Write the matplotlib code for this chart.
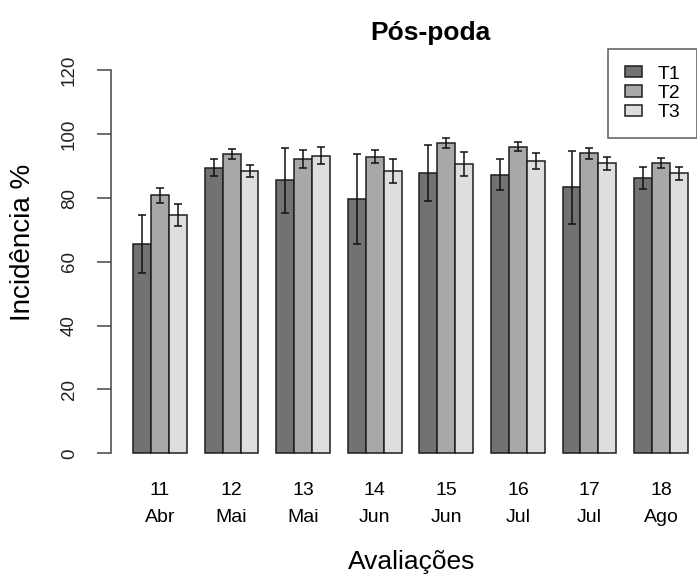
import matplotlib.pyplot as plt
import numpy as np

plt.rcParams["font.family"] = ["Liberation Sans", "DejaVu Sans"]

# Avaliações (semana + mês)
semanas = ["11", "12", "13", "14", "15", "16", "17", "18"]
meses = ["Abr", "Mai", "Mai", "Jun", "Jun", "Jul", "Jul", "Ago"]

tratamentos = ["T1", "T2", "T3"]

# Incidência média (%) por tratamento
t1 = [65.6, 89.5, 85.5, 79.6, 87.8, 87.3, 83.3, 86.3]
t2 = [80.8, 93.7, 92.3, 92.9, 97.2, 96.1, 94.0, 90.9]
t3 = [74.6, 88.5, 93.3, 88.5, 90.7, 91.6, 90.9, 87.8]

# erro padrão
t1_err = [9.0, 2.7, 10.3, 14.1, 8.7, 4.9, 11.5, 3.5]
t2_err = [2.4, 1.6, 2.9, 2.0, 1.6, 1.5, 1.7, 1.5]
t3_err = [3.4, 1.8, 2.7, 3.7, 3.7, 2.4, 2.1, 2.0]

cores = ["#707274", "#a6a8a9", "#dddede"]

W, H = 697, 578
fig = plt.figure(figsize=(W / 100, H / 100), dpi=100)

# plot region (R style barplot: beside=TRUE, space=c(0,1))
left_px, right_px = 111.1, 710.0
top_px, bot_px = 49.0, 468.6
ax = fig.add_axes([left_px / W, 1 - bot_px / H,
                   (right_px - left_px) / W, (bot_px - top_px) / H])

n = len(semanas)
medias = [t1, t2, t3]
erros = [t1_err, t2_err, t3_err]
for j in range(3):
    x = np.arange(n) * 4 + 1.5 + j
    ax.bar(x, medias[j], width=1.0, color=cores[j], edgecolor="#1e1e1e",
           linewidth=1.1, label=tratamentos[j], zorder=2)
    ax.errorbar(x, medias[j], yerr=erros[j], fmt="none", ecolor="#111111",
                elinewidth=1.1, capsize=2.8, capthick=1.1, zorder=3)

ax.set_xlim(-0.24, 33.24)
ax.set_ylim(-4.8, 126.7)

for s in ["top", "right", "bottom"]:
    ax.spines[s].set_visible(False)
ax.spines["left"].set_bounds(0, 120)
ax.spines["left"].set_color("#444444")
ax.spines["left"].set_linewidth(1.1)

ax.set_yticks(np.arange(0, 121, 20))
ax.set_yticklabels([str(v) for v in range(0, 121, 20)], rotation=90,
                   va="center", fontsize=13.5, color="#222222")
ax.tick_params(axis="y", length=10, width=1.1, color="#444444", pad=14)

ax.set_xticks(np.arange(n) * 4 + 2.5)
ax.set_xticklabels([f"{s}\n{m}" for s, m in zip(semanas, meses)],
                   fontsize=14, linespacing=1.7)
ax.tick_params(axis="x", length=0, pad=10)

fig.text(430 / W, 1 - 33 / H, "Pós-poda", ha="center", va="center",
         fontsize=19, fontweight="bold")
fig.text(412 / W, 1 - 562 / H, "Avaliações", ha="center", va="center",
         fontsize=19)
fig.text(23 / W, 1 - 242 / H, "Incidência %", ha="center", va="center",
         rotation=90, fontsize=20)

leg = ax.legend(loc="upper left", bbox_to_anchor=(608 / W, 1 - 49 / H),
                bbox_transform=fig.transFigure, borderaxespad=0,
                fontsize=14, frameon=True, fancybox=False,
                handlelength=0.9, handleheight=0.5, handletextpad=0.8,
                labelspacing=0.12, borderpad=0.85)
leg.get_frame().set_edgecolor("#333333")
leg.get_frame().set_linewidth(1.1)

fig.savefig("out.png", dpi=100)
